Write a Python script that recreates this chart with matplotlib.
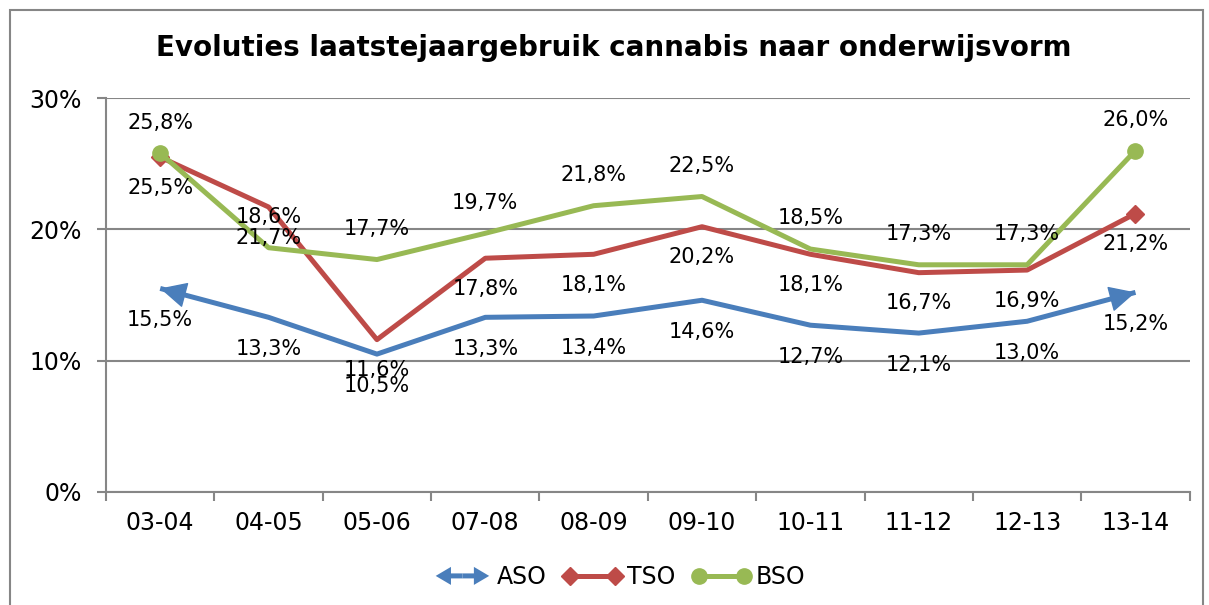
import matplotlib
matplotlib.use('Agg')
from matplotlib import pyplot as plt
from matplotlib.lines import Line2D
from matplotlib.patches import FancyArrow, Rectangle
from matplotlib.legend_handler import HandlerBase

years = ['03-04', '04-05', '05-06', '07-08', '08-09', '09-10', '10-11', '11-12', '12-13', '13-14']
aso = [15.5, 13.3, 10.5, 13.3, 13.4, 14.6, 12.7, 12.1, 13.0, 15.2]
tso = [25.5, 21.7, 11.6, 17.8, 18.1, 20.2, 18.1, 16.7, 16.9, 21.2]
bso = [25.8, 18.6, 17.7, 19.7, 21.8, 22.5, 18.5, 17.3, 17.3, 26.0]

blue = '#4A7EBB'
red = '#BE4B48'
green = '#98B954'
grey = '#868686'


class HandlerDoubleArrow(HandlerBase):
    # two filled arrows from the middle outwards
    def create_artists(self, legend, orig_handle, xdescent, ydescent, width, height, fontsize, trans):
        y = height / 2 - ydescent
        mid = width / 2 - xdescent
        half = width / 2 - 2
        out = []
        for d in (-1, 1):
            a = FancyArrow(mid, y, d * half, 0, width=3.6, head_width=13, head_length=11,
                           length_includes_head=True, color=blue, lw=0, transform=trans)
            out.append(a)
        return out


fig = plt.figure(figsize=(12.09, 6.05), dpi=100)
ax = fig.add_axes([0.0877, 0.1868, 0.8963, 0.6512])

x = list(range(len(years)))
ax.plot(x, aso, color=blue, lw=3.6, solid_capstyle='butt', zorder=3)
ax.plot(x, tso, color=red, lw=3.6, marker='D', markevery=[0, len(x) - 1], ms=9, zorder=4)
ax.plot(x, bso, color=green, lw=3.6, marker='o', markevery=[0, len(x) - 1], ms=11, zorder=5)

# arrow heads on ASO ends
for i0, i1 in [(1, 0), (len(x) - 2, len(x) - 1)]:
    ax.annotate('', xy=(x[i1], aso[i1]), xytext=(x[i0], aso[i0]),
                arrowprops=dict(arrowstyle='-|>,head_length=0.85,head_width=0.42', mutation_scale=20,
                                color=blue, lw=1, shrinkA=0, shrinkB=0), zorder=3)

fs = 15
for i in x:
    ax.annotate(f'{bso[i]:.1f}%'.replace('.', ','), (x[i], bso[i]), xytext=(0, 22),
                textcoords='offset points', ha='center', va='center', fontsize=fs, zorder=6)
    ax.annotate(f'{tso[i]:.1f}%'.replace('.', ','), (x[i], tso[i]), xytext=(0, -22),
                textcoords='offset points', ha='center', va='center', fontsize=fs, zorder=6)
    ax.annotate(f'{aso[i]:.1f}%'.replace('.', ','), (x[i], aso[i]), xytext=(0, -23),
                textcoords='offset points', ha='center', va='center', fontsize=fs, zorder=6)

tfs = 17
ax.set_xlim(-0.5, len(x) - 0.5)
ax.set_ylim(0, 30)
ax.set_yticks([0, 10, 20, 30])
ax.set_yticklabels(['0%', '10%', '20%', '30%'], fontsize=tfs)
ax.set_xticks(x)
ax.set_xticklabels(years, fontsize=tfs)
ax.set_xticks([i - 0.5 for i in range(len(x) + 1)], minor=True)
ax.tick_params(axis='x', which='major', length=0, pad=14)
ax.tick_params(axis='x', which='minor', length=6.5, color=grey, width=1.5, direction='out')
ax.tick_params(axis='y', length=6.5, color=grey, width=1.5, pad=11)
ax.yaxis.grid(True, color=grey, lw=1.5)
ax.set_axisbelow(True)
for s in ['top', 'right']:
    ax.spines[s].set_visible(False)
for s in ['left', 'bottom']:
    ax.spines[s].set_color(grey)
    ax.spines[s].set_linewidth(1.5)

fig.text(0.508, 0.921, 'Evoluties laatstejaargebruik cannabis naar onderwijsvorm',
         ha='center', va='center', fontsize=20, fontweight='bold')

handles = [Line2D([], [], color=blue),
           Line2D([], [], color=red, lw=3.6, marker='D', ms=9),
           Line2D([], [], color=green, lw=3.6, marker='o', ms=11)]
fig.legend(handles, ['ASO', 'TSO', 'BSO'], loc='center', bbox_to_anchor=(0.512, 0.046),
           ncol=3, frameon=False, fontsize=tfs, handlelength=2.5, handletextpad=0.2,
           columnspacing=0.7, numpoints=2,
           handler_map={handles[0]: HandlerDoubleArrow()})

fig.patches.append(Rectangle((10 / 1209, -0.1), 1193 / 1209, 1.1 - 10 / 605, transform=fig.transFigure,
                             fill=False, edgecolor=grey, lw=1.5))

fig.savefig('out.png', dpi=100)
